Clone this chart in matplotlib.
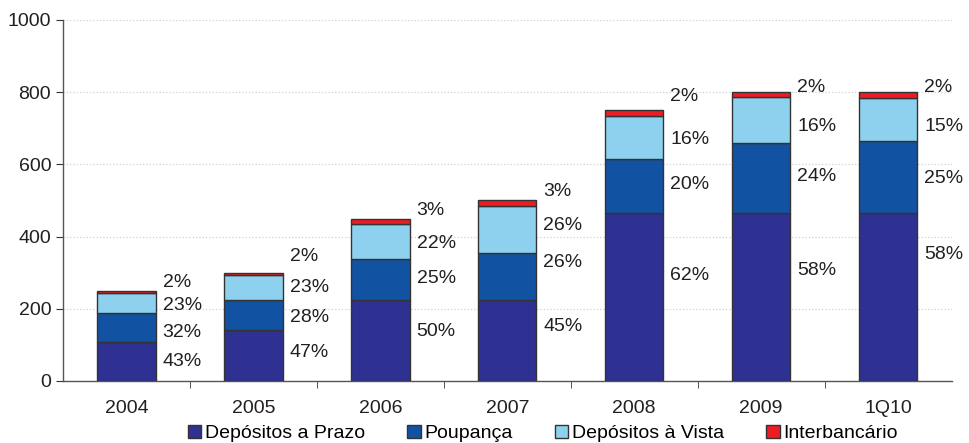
import numpy as np
import matplotlib.pyplot as plt

plt.rcParams['font.family'] = ['Liberation Sans', 'DejaVu Sans']

# Data
years = ["2004", "2005", "2006", "2007", "2008", "2009", "1Q10"]
prazo = [107, 141, 225, 225, 465, 465, 465]
poupanca = [80, 84, 112, 130, 150, 193, 200]
vista = [58, 69, 99, 130, 119, 128, 120]
interbancario = [5, 6, 14, 15, 16, 14, 15]

pct_prazo = ["43%", "47%", "50%", "45%", "62%", "58%", "58%"]
pct_poupanca = ["32%", "28%", "25%", "26%", "20%", "24%", "25%"]
pct_vista = ["23%", "23%", "22%", "26%", "16%", "16%", "15%"]
pct_inter = ["2%", "2%", "3%", "3%", "2%", "2%", "2%"]

# label heights (data units) as placed in the original
lab_y_prazo = [53, 78, 136, 150, 291, 307, 349]
lab_y_poupanca = [133, 175, 283, 327, 543, 565, 562]
lab_y_vista = [208, 260, 380, 432, 668, 706, 704]
lab_y_inter = [274, 346, 471, 526, 787, 812, 812]

series = [prazo, poupanca, vista, interbancario]
names = ["Depósitos a Prazo", "Poupança", "Depósitos à Vista", "Interbancário"]
colors = ["#2E3192", "#1252A3", "#8ED1EF", "#ED1C24"]

fig = plt.figure(figsize=(9.69, 4.43), dpi=100)
ax = fig.add_axes([0.065, 0.14, 0.917, 0.815])

x = np.arange(len(years))
bottom = np.zeros(len(years))
for vals, name, c in zip(series, names, colors):
    ax.bar(x, vals, bottom=bottom, width=0.46, color=c, edgecolor='#333333',
           linewidth=1.0, label=name, zorder=3)
    bottom += np.array(vals)

for labels, ys in [(pct_prazo, lab_y_prazo), (pct_poupanca, lab_y_poupanca),
                   (pct_vista, lab_y_vista), (pct_inter, lab_y_inter)]:
    for xi, lab, yv in zip(x, labels, ys):
        ax.text(xi + 0.285, yv, lab, ha='left', va='center', fontsize=14,
                color='#231F20')

ax.set_xlim(-0.5, len(years) - 0.5)
ax.set_ylim(0, 1000)
ax.set_yticks(np.arange(0, 1001, 200))
ax.set_xticks(x)
ax.set_xticklabels(years)
ax.set_xticks(np.arange(0.5, len(years) - 1, 1.0), minor=True)
ax.tick_params(axis='x', which='major', length=0, pad=14, labelsize=14, labelcolor='#231F20')
ax.tick_params(axis='x', which='minor', length=5, direction='out', color='#333333')
ax.tick_params(axis='y', length=5, direction='out', labelsize=14, color='#333333',
               labelcolor='#231F20')

ax.yaxis.grid(True, linestyle=':', color='#D0D0D0', linewidth=0.9, zorder=0)
ax.set_axisbelow(True)
for s in ['top', 'right']:
    ax.spines[s].set_visible(False)
for s in ['left', 'bottom']:
    ax.spines[s].set_color('#555555')
    ax.spines[s].set_linewidth(1.0)

ax.legend(loc='upper center', bbox_to_anchor=(0.54, -0.1), ncol=4, frameon=False,
          fontsize=14, handlelength=0.7, handleheight=0.7, handletextpad=0.2,
          columnspacing=2.15, borderaxespad=0)

fig.savefig("out.png", dpi=100)
